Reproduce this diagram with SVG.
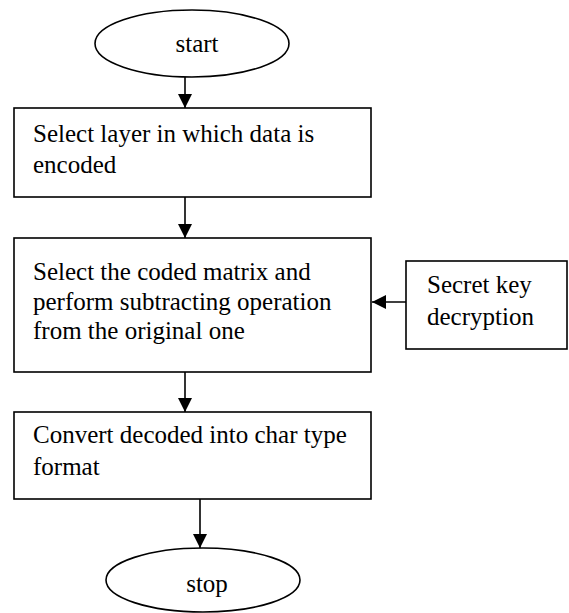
<svg xmlns="http://www.w3.org/2000/svg" width="569" height="613" viewBox="0 0 569 613">
  <style>
    .shape { fill: #ffffff; stroke: #000000; stroke-width: 1.6; }
    .label { font-family: "Liberation Serif", "Times New Roman", serif; font-size: 25px; fill: #000000; }
    .link { stroke: #000000; stroke-width: 1.6; fill: none; }
  </style>
  <defs>
    <marker id="arrow" viewBox="0 0 14 14" refX="14" refY="7" markerWidth="14" markerHeight="14" markerUnits="userSpaceOnUse" orient="auto">
      <path d="M0,0 L14,7 L0,14 Z" fill="#000000"/>
    </marker>
  </defs>
  <rect width="569" height="613" fill="#ffffff"/>

  <g id="connectors">
    <line class="link" x1="185" y1="77" x2="185" y2="108" marker-end="url(#arrow)"/>
    <line class="link" x1="185" y1="197" x2="185" y2="238" marker-end="url(#arrow)"/>
    <line class="link" x1="406" y1="302" x2="372" y2="302" marker-end="url(#arrow)"/>
    <line class="link" x1="185" y1="372" x2="185" y2="412" marker-end="url(#arrow)"/>
    <line class="link" x1="200" y1="499" x2="200" y2="548" marker-end="url(#arrow)"/>
  </g>

  <g id="start">
    <ellipse class="shape" cx="192" cy="43.5" rx="97" ry="33.5"/>
    <text class="label" x="197" y="52" text-anchor="middle">start</text>
  </g>

  <g id="select-layer">
    <rect class="shape" x="14" y="108" width="357" height="89"/>
    <text class="label" x="33" y="142">Select layer in which data is</text>
    <text class="label" x="33" y="173">encoded</text>
  </g>

  <g id="subtract">
    <rect class="shape" x="14" y="238" width="357" height="134"/>
    <text class="label" x="33" y="280">Select the coded matrix and</text>
    <text class="label" x="33" y="310">perform subtracting operation</text>
    <text class="label" x="33" y="339">from the original one</text>
  </g>

  <g id="secret-key">
    <rect class="shape" x="406" y="261" width="161" height="88"/>
    <text class="label" x="427" y="293">Secret key</text>
    <text class="label" x="427" y="325">decryption</text>
  </g>

  <g id="convert">
    <rect class="shape" x="14" y="412" width="357" height="87"/>
    <text class="label" x="33" y="443">Convert decoded into char type</text>
    <text class="label" x="33" y="475">format</text>
  </g>

  <g id="stop">
    <ellipse class="shape" cx="203" cy="580" rx="97" ry="32"/>
    <text class="label" x="207" y="592" text-anchor="middle">stop</text>
  </g>
</svg>
